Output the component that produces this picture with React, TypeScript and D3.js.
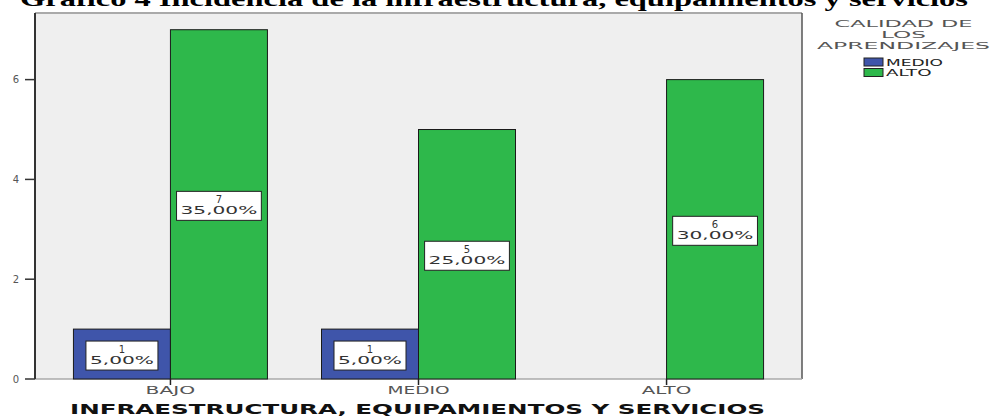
import React from "react";
import * as d3 from "d3";

const categories = ["BAJO", "MEDIO", "ALTO"];
const seriesNames = ["MEDIO", "ALTO"];
const medioCounts = [1, 1, 0];
const altoCounts = [7, 5, 6];
const medioPct = ["5,00%", "5,00%", ""];
const altoPct = ["35,00%", "25,00%", "30,00%"];
const yTicks = [0, 2, 4, 6];
const colors = ["#3F55AA", "#2EB84B"];
const titleText = "Gráfico 4 Incidencia de la infraestructura, equipamientos y servicios";
const xTitle = "INFRAESTRUCTURA, EQUIPAMIENTOS Y SERVICIOS";
const legendTitle = ["CALIDAD DE", "LOS", "APRENDIZAJES"];

const W = 992, H = 416;
const left = 35, right = 802, top = 13, bottom = 379;
const FONT = "'DejaVu Sans', Arial, sans-serif";

export default function App() {
  const x = d3.scalePoint<string>().domain(categories).range([left, right]).padding(0.546);
  const y = d3.scaleLinear().domain([0, 7.335]).range([bottom, top]);
  const barW = 97;
  const series = [medioCounts, altoCounts];
  const pcts = [medioPct, altoPct];

  const bars: JSX.Element[] = [];
  const labels: JSX.Element[] = [];
  categories.forEach((c, i) => {
    const cx = x(c)!;
    series.forEach((vals, s) => {
      const v = vals[i];
      if (!v) return;
      const x0 = s === 0 ? cx - barW : cx;
      const yTop = y(v);
      bars.push(
        <rect key={`b${s}${i}`} x={x0} y={yTop} width={barW} height={bottom - yTop}
          fill={colors[s]} stroke="#1a1a1a" strokeWidth={1} />
      );
      const pct = pcts[s][i];
      const tl = pct.length * 12.8;
      const bw = tl + 8;
      const bh = 29;
      const mx = x0 + barW / 2;
      const my = (yTop + bottom) / 2 + 1.5;
      labels.push(
        <g key={`l${s}${i}`}>
          <rect x={mx - bw / 2} y={my - bh / 2} width={bw} height={bh} fill="#fff" stroke="#222" strokeWidth={1} />
          <text x={mx} y={my - 3} textAnchor="middle" fontSize={10} fill="#333" fontFamily={FONT}>{v}</text>
          <text x={mx - tl / 2} y={my + 8} fontSize={10} fill="#333" fontFamily={FONT}
            textLength={tl} lengthAdjust="spacingAndGlyphs">{pct}</text>
        </g>
      );
    });
  });

  return (
    <svg width={W} height={H} style={{ position: "absolute", left: 0, top: 0, background: "#fff" }}>
      <text x={20} y={6} fontFamily="'Liberation Serif', 'Times New Roman', serif" fontWeight="bold"
        fontSize={22} textLength={948} lengthAdjust="spacingAndGlyphs" fill="#000">{titleText}</text>
      <rect x={left} y={top} width={right - left} height={bottom - top} fill="#EFEFEF" />
      <line x1={left} x2={right} y1={top} y2={top} stroke="#aaa" strokeWidth={2} />
      <line x1={right} x2={right} y1={top} y2={bottom} stroke="#555" strokeWidth={1.5} />
      <line x1={left} x2={right} y1={bottom} y2={bottom} stroke="#aaa" strokeWidth={1.5} />
      {bars}
      {labels}
      <line x1={left} x2={left} y1={top} y2={bottom} stroke="#333" strokeWidth={2} />
      {yTicks.map(t => (
        <g key={t}>
          <line x1={25} x2={left} y1={y(t)} y2={y(t)} stroke="#333" strokeWidth={1.5} />
          <text x={16} y={y(t) + 3.5} textAnchor="middle" fontSize={10} fill="#555" fontFamily={FONT}>{t}</text>
        </g>
      ))}
      {categories.map(c => (
        <g key={c}>
          <line x1={x(c)!} x2={x(c)!} y1={bottom} y2={bottom + 6} stroke="#222" strokeWidth={1.5} />
          <text x={x(c)! - c.length * 6.2} y={393.5} fontSize={10} fill="#555" fontFamily={FONT}
            textLength={c.length * 12.4} lengthAdjust="spacingAndGlyphs">{c}</text>
        </g>
      ))}
      <text x={70} y={414} fontSize={14} fontWeight="bold" fill="#111" fontFamily={FONT}
        textLength={695} lengthAdjust="spacingAndGlyphs">{xTitle}</text>
      {legendTitle.map((t, i) => {
        const tl = [138, 45, 173][i];
        return (
          <text key={t} x={903.5 - tl / 2} y={27 + i * 11} fontSize={9.5} fill="#555" fontFamily={FONT}
            textLength={tl} lengthAdjust="spacingAndGlyphs">{t}</text>
        );
      })}
      {seriesNames.map((s, i) => (
        <g key={s}>
          <rect x={864} y={58 + i * 10.5} width={19} height={8} fill={colors[i]} stroke="#222" strokeWidth={1} />
          <text x={886} y={65.5 + i * 10.5} fontSize={8.5} fill="#222" fontFamily={FONT}
            textLength={s.length * 11.4} lengthAdjust="spacingAndGlyphs">{s}</text>
        </g>
      ))}
    </svg>
  );
}
